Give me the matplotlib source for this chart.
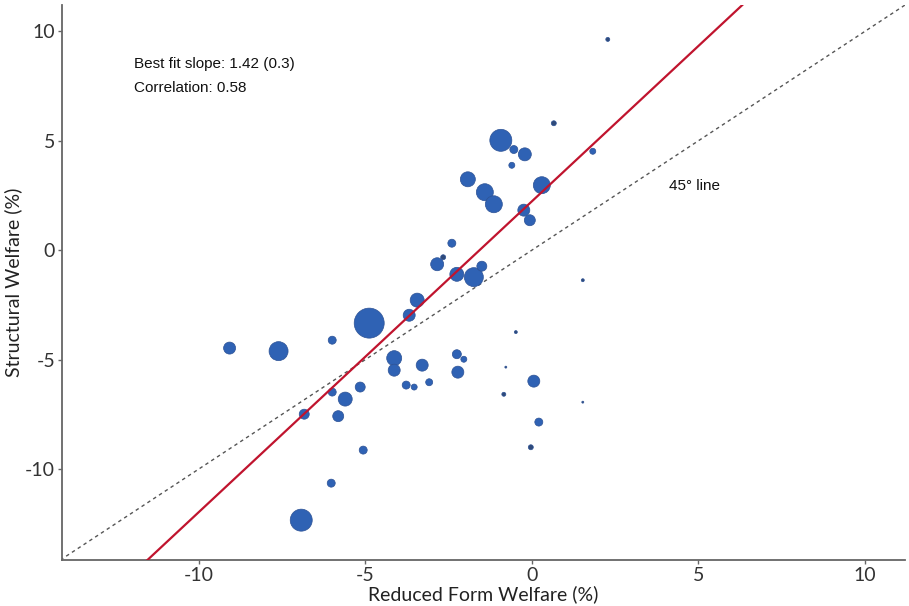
import matplotlib
matplotlib.use("Agg")
import matplotlib.pyplot as plt
import numpy as np

# Reduced form welfare (%) vs structural welfare (%), bubble weight
reduced_form = [-0.93, -0.54, -0.21, -0.60, 0.66, 1.83, -1.92, -1.41, -1.14, 0.30,
                -0.24, -0.06, -2.40, -2.66, -2.84, -2.25, -1.74, -1.50, 1.53, 2.28,
                -4.88, -3.44, -3.68, -4.13, -4.13, -3.29, -2.25, -2.04, -2.22, -3.77,
                -3.53, -3.08, -5.15, -5.60, -0.48, -0.84, -0.78, -9.07, -7.60, -5.99,
                -5.99, -5.81, -6.83, -5.06, -6.02, -6.92, 0.06, 0.21, -0.03, 1.53]
structural = [5.02, 4.60, 4.38, 3.88, 5.80, 4.52, 3.24, 2.65, 2.10, 2.97,
              1.83, 1.37, 0.32, -0.32, -0.64, -1.10, -1.23, -0.73, -1.37, 9.63,
              -3.33, -2.28, -2.97, -4.93, -5.48, -5.25, -4.75, -4.98, -5.57, -6.16,
              -6.25, -6.03, -6.25, -6.80, -3.74, -6.58, -5.34, -4.47, -4.61, -4.11,
              -6.48, -7.58, -7.49, -9.13, -10.64, -12.33, -5.98, -7.85, -9.00, -6.94]
weights = [22, 8, 13, 6, 5, 6, 15, 17, 17, 17,
           12, 11, 8, 5, 13, 14, 19, 10, 3, 4,
           30, 14, 12, 15, 12, 12, 9, 6, 12, 8,
           6, 7, 10, 14, 3, 4, 2, 12, 19, 8,
           8, 11, 10, 8, 8, 22, 12, 8, 5, 2]

fit_slope = 1.42
fit_intercept = 2.23
xlim = (-14.1, 11.2)
ylim = (-14.15, 11.2)
xticks = [-10, -5, 0, 5, 10]
yticks = [-10, -5, 0, 5, 10]

fig = plt.figure(figsize=(9.09, 6.06), dpi=100)
ax = fig.add_axes([0.0682, 0.0759, 0.9274, 0.9158])

x = np.array(reduced_form)
y = np.array(structural)
w = np.array(weights, dtype=float)
sizes = (0.72 * w) ** 2
# tiny bubbles render darker in the reference
face = ["#2f4a7a" if wi <= 5 else "#2f62b4" for wi in w]

# 45 degree line
lo = min(xlim[0], ylim[0])
hi = max(xlim[1], ylim[1])
ax.plot([lo, hi], [lo, hi], color="#555555", lw=1.0, ls=(0, (2.5, 2.5)), zorder=1)

ax.scatter(x, y, s=sizes, c=face, edgecolor="#2d5295", linewidth=0.5, zorder=2)

# best fit line
xx = np.array([xlim[0], xlim[1]])
ax.plot(xx, fit_intercept + fit_slope * xx, color="#c0142e", lw=1.6, zorder=3)

ax.set_xlim(*xlim)
ax.set_ylim(*ylim)
ax.set_xticks(xticks)
ax.set_yticks(yticks)
ax.set_xticklabels([str(t) for t in xticks])
ax.set_yticklabels([str(t) for t in yticks])

for side in ["top", "right"]:
    ax.spines[side].set_visible(False)
for side in ["left", "bottom"]:
    ax.spines[side].set_color("#666666")
    ax.spines[side].set_linewidth(1.3)

ax.tick_params(axis="both", direction="out", length=3, width=1, color="#666666",
               labelcolor="#333333", labelsize=14, pad=2)
for lab in ax.get_xticklabels() + ax.get_yticklabels():
    lab.set_fontfamily("Lato")

ax.set_xlabel("Reduced Form Welfare (%)", fontfamily="Lato", fontsize=14, color="#222222", labelpad=1)
ax.set_ylabel("Structural Welfare (%)", fontfamily="Lato", fontsize=14, color="#222222", labelpad=2)

ax.text(-11.95, 8.5, "Best fit slope: 1.42 (0.3)", fontfamily="Liberation Sans", fontsize=11,
        color="#111111", va="center", ha="left")
ax.text(-11.95, 7.4, "Correlation: 0.58", fontfamily="Liberation Sans", fontsize=11,
        color="#111111", va="center", ha="left")
ax.text(4.13, 2.92, "45° line", fontfamily="Liberation Sans", fontsize=11,
        color="#111111", va="center", ha="left")

fig.savefig("out.png", dpi=100)
